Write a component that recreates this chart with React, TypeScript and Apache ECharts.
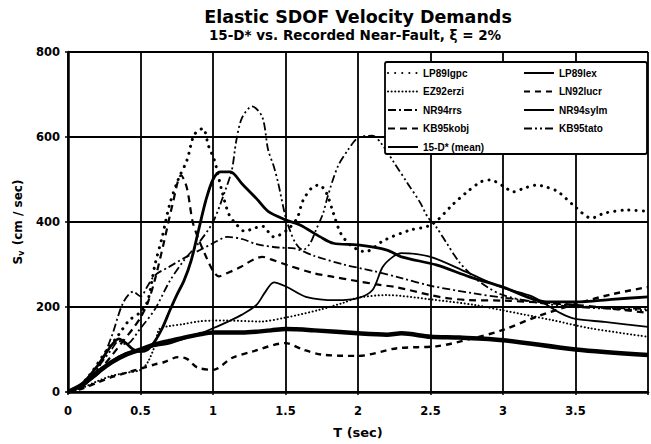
import React, { useEffect, useRef } from "react";
import * as echarts from "echarts";

// ---- data: [T (sec), Sv (cm/sec)] ----
const lp89lgpc: number[][] = [
  [0, 0], [0.05, 5], [0.15, 40], [0.25, 90], [0.35, 135], [0.42, 168], [0.5, 188], [0.55, 215],
  [0.6, 300], [0.65, 365], [0.7, 440], [0.76, 500], [0.82, 545], [0.87, 605], [0.93, 620],
  [0.97, 578], [1.01, 545], [1.06, 475], [1.11, 418], [1.16, 395], [1.22, 378], [1.28, 385],
  [1.34, 390], [1.42, 365], [1.51, 381], [1.58, 409], [1.62, 450], [1.68, 480], [1.73, 487],
  [1.78, 470], [1.83, 421], [1.88, 374], [1.95, 345], [2.05, 330], [2.18, 357], [2.36, 381],
  [2.48, 390], [2.55, 405], [2.65, 440], [2.75, 470], [2.85, 495], [2.91, 499], [3.0, 485],
  [3.07, 471], [3.15, 480], [3.23, 487], [3.3, 482], [3.38, 471], [3.5, 435], [3.61, 409],
  [3.7, 421], [3.86, 428], [4.0, 425],
];
const lp89lex: number[][] = [
  [0, 0], [0.1, 20], [0.2, 60], [0.3, 110], [0.35, 125], [0.4, 115], [0.45, 100], [0.5, 95],
  [0.55, 100], [0.6, 120], [0.65, 150], [0.7, 190], [0.75, 228], [0.8, 262], [0.85, 310],
  [0.9, 380], [0.95, 450], [1.0, 500], [1.05, 518], [1.12, 518], [1.2, 490], [1.3, 455],
  [1.38, 425], [1.5, 405], [1.6, 393], [1.74, 365], [1.83, 350], [2.0, 346], [2.2, 334],
  [2.3, 318], [2.54, 299], [2.77, 271], [3.0, 247], [3.3, 212], [3.5, 212], [3.75, 218],
  [4.0, 224],
];
const ez92erzi: number[][] = [
  [0, 0], [0.1, 10], [0.2, 25], [0.3, 38], [0.4, 45], [0.5, 52], [0.55, 70], [0.6, 110],
  [0.63, 148], [0.7, 155], [0.8, 160], [0.9, 166], [1.0, 168], [1.1, 168], [1.33, 166],
  [1.5, 175], [1.73, 193], [1.9, 210], [2.0, 222], [2.2, 228], [2.5, 218], [2.8, 205],
  [3.0, 192], [3.34, 169], [3.6, 150], [4.0, 130],
];
const ln92lucr: number[][] = [
  [0, 0], [0.1, 8], [0.2, 22], [0.3, 35], [0.4, 45], [0.5, 55], [0.6, 65], [0.66, 70],
  [0.76, 82], [0.82, 78], [0.89, 58], [1.0, 52], [1.13, 80], [1.27, 95], [1.5, 115],
  [1.62, 100], [1.75, 88], [2.0, 85], [2.27, 103], [2.55, 108], [2.8, 127], [3.0, 146],
  [3.23, 177], [3.52, 209], [3.75, 230], [4.0, 247],
];
const nr94rrs: number[][] = [
  [0, 0], [0.1, 12], [0.2, 50], [0.3, 130], [0.38, 210], [0.45, 236], [0.5, 225], [0.55, 250],
  [0.6, 275], [0.7, 295], [0.8, 315], [0.91, 334], [1.0, 350], [1.1, 365], [1.2, 360],
  [1.3, 348], [1.45, 340], [1.56, 338], [1.7, 320], [1.9, 300], [2.1, 285], [2.3, 268],
  [2.5, 250], [2.8, 232], [3.0, 222], [3.3, 210], [3.6, 200], [4.0, 195],
];
const nr94sylm: number[][] = [
  [0, 0], [0.1, 15], [0.2, 40], [0.3, 72], [0.4, 92], [0.5, 100], [0.6, 108], [0.7, 114],
  [0.8, 125], [0.9, 136], [1.0, 150], [1.1, 165], [1.2, 182], [1.3, 205], [1.36, 235],
  [1.42, 258], [1.51, 247], [1.64, 224], [1.85, 216], [2.0, 221], [2.1, 240], [2.17, 294],
  [2.24, 318], [2.3, 327], [2.5, 318], [2.75, 282], [3.0, 245], [3.2, 225], [3.4, 185],
  [3.5, 172], [3.7, 165], [4.0, 153],
];
const kb95kobj: number[][] = [
  [0, 0], [0.1, 15], [0.2, 45], [0.3, 85], [0.38, 120], [0.45, 150], [0.5, 175], [0.55, 210],
  [0.6, 265], [0.66, 350], [0.72, 440], [0.78, 510], [0.82, 480], [0.86, 400], [0.9, 360],
  [0.95, 320], [1.0, 285], [1.04, 272], [1.1, 280], [1.19, 294], [1.28, 312], [1.34, 318],
  [1.4, 312], [1.5, 300], [1.69, 280], [1.83, 271], [1.96, 263], [2.15, 252], [2.26, 247],
  [2.5, 228], [2.61, 221], [2.77, 216], [3.0, 215], [3.5, 205], [4.0, 186],
];
const kb95tato: number[][] = [
  [0, 0], [0.1, 15], [0.2, 55], [0.3, 100], [0.35, 120], [0.4, 112], [0.5, 150], [0.6, 195],
  [0.7, 260], [0.8, 310], [0.9, 350], [1.0, 400], [1.08, 470], [1.13, 522], [1.16, 590],
  [1.2, 645], [1.27, 672], [1.34, 647], [1.38, 570], [1.42, 530], [1.45, 491], [1.5, 412],
  [1.53, 381], [1.57, 350], [1.62, 334], [1.67, 350], [1.71, 381], [1.76, 421], [1.79, 459],
  [1.86, 530], [1.93, 569], [2.0, 598], [2.1, 603], [2.16, 585], [2.25, 539], [2.34, 492],
  [2.43, 445], [2.48, 412], [2.54, 388], [2.61, 351], [2.7, 305], [2.8, 270], [2.9, 245],
  [3.0, 228], [3.2, 212], [3.5, 200], [3.8, 195], [4.0, 192],
];
const mean15D: number[][] = [
  [0, 0], [0.1, 18], [0.2, 45], [0.3, 70], [0.4, 88], [0.5, 100], [0.6, 112], [0.7, 120],
  [0.8, 128], [0.9, 135], [1.0, 140], [1.2, 140], [1.4, 145], [1.5, 148], [1.7, 145],
  [2.0, 138], [2.2, 135], [2.3, 138], [2.5, 130], [2.7, 128], [3.0, 122], [3.5, 100],
  [4.0, 87],
];

const xTicks = [0, 0.5, 1, 1.5, 2, 2.5, 3, 3.5];
const legendLeftNames = ["LP89lgpc", "EZ92erzi", "NR94rrs", "KB95kobj", "15-D* (mean)"];
const legendRightNames = ["LP89lex", "LN92lucr", "NR94sylm", "KB95tato"];

const TITLE = "Elastic SDOF Velocity Demands";
const SUBTITLE = "15-D* vs. Recorded Near-Fault, \u03BE = 2%";

const FONT = "'DejaVu Sans', sans-serif";

function mk(name: string, data: number[][], width: number, type: any, cap: string = "butt") {
  return {
    name,
    type: "line",
    data,
    symbol: "none",
    showSymbol: false,
    smooth: 0.3,
    z: 2,
    lineStyle: { color: "#000", width, type, cap, join: "round" },
    itemStyle: { color: "#000" },
  };
}

export default function App() {
  const ref = useRef<HTMLDivElement>(null);
  useEffect(() => {
    if (!ref.current) return;
    const chart = echarts.init(ref.current, undefined, { renderer: "svg" });
    const legendCommon = {
      orient: "vertical",
      top: 67,
      itemWidth: 30,
      itemHeight: 12,
      itemGap: 6.5,
      selectedMode: false,
      padding: 0,
      z: 10,
      itemStyle: { opacity: 0, borderWidth: 0 },
      textStyle: {
        color: "#000",
        fontFamily: "'Liberation Sans', Arial, sans-serif",
        fontWeight: "bold",
        fontSize: 10,
        lineHeight: 12,
      },
    };
    chart.setOption({
      animation: false,
      backgroundColor: "#fff",
      grid: { left: 68, top: 52, width: 586, height: 340, containLabel: false },
      xAxis: {
        type: "value",
        min: 0,
        max: 4,
        interval: 0.5,
        name: "T (sec)",
        nameLocation: "middle",
        nameGap: 34,
        nameTextStyle: { fontFamily: FONT, fontWeight: "bold", fontSize: 13, color: "#000" },
        axisLine: { show: true, lineStyle: { color: "#000", width: 2.5 } },
        axisTick: { show: true, length: 3, lineStyle: { color: "#000", width: 1.5 } },
        splitLine: { show: true, lineStyle: { color: "#000", width: 1.8 } },
        axisLabel: {
          margin: 13,
          color: "#000",
          fontFamily: FONT,
          fontWeight: "bold",
          fontSize: 11.5,
          formatter: (v: number) => (xTicks.indexOf(v) >= 0 ? String(v) : ""),
        },
      },
      yAxis: {
        type: "value",
        min: 0,
        max: 800,
        interval: 200,
        name: "{s|S}{v|v}{s| (cm / sec)}",
        nameLocation: "middle",
        nameGap: 36,
        nameTextStyle: {
          color: "#000",
          rich: {
            s: { fontFamily: FONT, fontWeight: "bold", fontSize: 12, color: "#000" },
            v: { fontFamily: FONT, fontWeight: "bold", fontSize: 8, color: "#000", padding: [6, 1, 0, 0] },
          },
        },
        axisLine: { show: true, lineStyle: { color: "#000", width: 2.5 } },
        axisTick: { show: true, length: 3, lineStyle: { color: "#000", width: 1.5 } },
        splitLine: { show: true, lineStyle: { color: "#000", width: 1.8 } },
        axisLabel: { margin: 8, color: "#000", fontFamily: FONT, fontWeight: "bold", fontSize: 11.5 },
      },
      legend: [
        { ...legendCommon, left: 387, data: legendLeftNames },
        { ...legendCommon, left: 523, data: legendRightNames },
      ],
      graphic: [
        {
          type: "text",
          x: 358,
          y: 8,
          z: 10,
          style: { text: TITLE, fill: "#000", font: `bold 17.5px ${FONT}`, textAlign: "center" },
        },
        {
          type: "text",
          x: 355,
          y: 28,
          z: 10,
          style: { text: SUBTITLE, fill: "#000", font: `bold 13.5px ${FONT}`, textAlign: "center" },
        },
        {
          type: "rect",
          z: 5,
          shape: { x: 385, y: 62, width: 262, height: 92, r: 2 },
          style: { fill: "#fff", stroke: "#000", lineWidth: 1.8 },
        },
      ],
      series: [
        mk("LP89lgpc", lp89lgpc, 3, [0.1, 7], "round"),
        mk("EZ92erzi", ez92erzi, 2, [0.1, 3.5], "round"),
        mk("NR94rrs", nr94rrs, 1.8, [8, 3, 2, 3]),
        mk("KB95kobj", kb95kobj, 2.2, [7, 5]),
        mk("15-D* (mean)", mean15D, 4.5, "solid"),
        mk("LP89lex", lp89lex, 2.8, "solid"),
        mk("LN92lucr", ln92lucr, 2.4, [6, 5]),
        mk("NR94sylm", nr94sylm, 1.8, "solid"),
        mk("KB95tato", kb95tato, 1.8, [8, 3, 2, 3, 2, 3]),
      ],
    });
    return () => chart.dispose();
  }, []);
  return (
    <div
      ref={ref}
      style={{ position: "fixed", left: 0, top: 0, width: 651, height: 444, background: "#fff" }}
    />
  );
}
